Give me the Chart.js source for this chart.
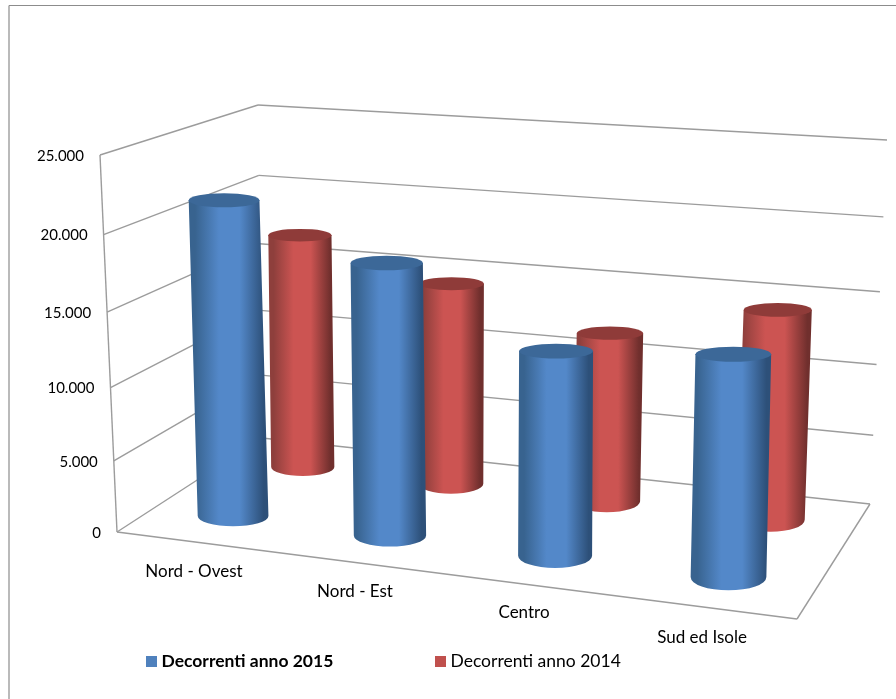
<!DOCTYPE html>
<html>
<head>
<meta charset="utf-8">
<title>Decorrenti</title>
<script src="https://cdn.jsdelivr.net/npm/chart.js@4"></script>
<style>
  html, body { margin: 0; padding: 0; background: #fff; }
  canvas { display: block; }
</style>
</head>
<body>
<canvas id="grafico" width="896" height="699"></canvas>
<script>
const categorie = ["Nord - Ovest", "Nord - Est", "Centro", "Sud ed Isole"];
const decorrenti2015 = [21600, 18400, 13700, 14550];
const decorrenti2014 = [17100, 14550, 12050, 14600];
const tickMax = 25000;
const tickStep = 5000;

// corners of the 3D box on screen: floor and ceiling
const floorBox = { fl: [117, 532], fr: [797, 619], br: [870, 504], bl: [262, 438] };
const topBox = { fl: [100, 155], fr: [807, 207], br: [887, 140], bl: [258, 105] };
const seriesDepth = [0.27, 0.78];
const seriesColors = [
  { left: "#38638f", mid: "#5388c9", right: "#2d5079", cap: "#3c6898" },
  { left: "#8e3f3c", mid: "#cc5452", right: "#702f2d", cap: "#8f3b39" }
];
const labelShift = [[-8, 29], [-17, 27], [-18, 26], [-10, 29]];
const fontName = "Lato, 'Open Sans', sans-serif";

const lerp = (a, b, t) => a + (b - a) * t;

const corner = (box, u, v) => {
  const x = lerp(lerp(box.fl[0], box.fr[0], u), lerp(box.bl[0], box.br[0], u), v);
  const y = lerp(lerp(box.fl[1], box.fr[1], u), lerp(box.bl[1], box.br[1], u), v);
  return [x, y];
};

// u = along the categories, v = depth, t = share of the value axis
const project = (u, v, t) => {
  const a = corner(floorBox, u, v);
  const b = corner(topBox, u, v);
  // the upper steps of the axis look a bit larger than the lower ones
  const h = t - 0.07 * t * (1 - t);
  return [lerp(a[0], b[0], h), lerp(a[1], b[1], h)];
};

const line = (ctx, a, b) => {
  ctx.beginPath();
  ctx.moveTo(a[0], a[1]);
  ctx.lineTo(b[0], b[1]);
  ctx.stroke();
};

const drawWalls = (chart) => {
  const { ctx, scales } = chart;
  const yScale = scales.y;
  const shareOf = (value) => (yScale.bottom - yScale.getPixelForValue(value)) / (yScale.bottom - yScale.top);

  // frame of the picture
  ctx.strokeStyle = "#8c8c8c";
  ctx.lineWidth = 1.2;
  line(ctx, [9, 699], [9, 5.5]);
  line(ctx, [9, 5.5], [896, 5.5]);

  ctx.strokeStyle = "#9c9c9c";
  ctx.lineWidth = 1.4;
  yScale.ticks.forEach((tick) => {
    const t = shareOf(tick.value);
    line(ctx, project(0, 0, t), project(0, 1, t));
    line(ctx, project(0, 1, t), project(1, 1, t));
  });
  line(ctx, project(0, 0, 0), project(0, 0, 1));
  line(ctx, project(0, 0, 0), project(1, 0, 0));
  line(ctx, project(1, 0, 0), project(1, 1, 0));

  // value labels follow the lean of the front edge
  ctx.fillStyle = "#000";
  ctx.font = "15px " + fontName;
  ctx.textAlign = "right";
  ctx.textBaseline = "middle";
  yScale.ticks.forEach((tick) => {
    const p = project(0, 0, shareOf(tick.value));
    ctx.fillText(tick.label, p[0] - 16, p[1] + 1);
  });
};

const drawCylinder = (chart, el, depth, colors) => {
  const { ctx, chartArea } = chart;
  const yScale = chart.scales.y;
  const u0 = (el.x - chartArea.left) / (chartArea.right - chartArea.left);
  const u = u0 + 0.1 * (u0 - 0.5) * (u0 - 0.5) - 0.0226;
  const t = (el.base - el.y) / (yScale.bottom - yScale.top);
  const bottom = project(u, depth, 0);
  const top = project(u, depth, t);
  const rx = (el.width / 2) * (1 + 0.09 * u - 0.2 * depth);
  const ryBottom = rx * (0.28 + 0.08 * u);
  const ryTop = rx * 0.2;

  const grad = ctx.createLinearGradient(Math.min(top[0], bottom[0]) - rx, 0, Math.max(top[0], bottom[0]) + rx, 0);
  grad.addColorStop(0, colors.left);
  grad.addColorStop(0.08, colors.left);
  grad.addColorStop(0.38, colors.mid);
  grad.addColorStop(0.64, colors.mid);
  grad.addColorStop(0.94, colors.right);
  grad.addColorStop(1, colors.right);

  ctx.fillStyle = grad;
  ctx.beginPath();
  ctx.moveTo(top[0] - rx, top[1]);
  ctx.lineTo(bottom[0] - rx, bottom[1]);
  ctx.ellipse(bottom[0], bottom[1], rx, ryBottom, 0, Math.PI, 0, true);
  ctx.lineTo(top[0] + rx, top[1]);
  ctx.closePath();
  ctx.fill();

  ctx.fillStyle = colors.cap;
  ctx.beginPath();
  ctx.ellipse(top[0], top[1], rx, ryTop, 0, 0, Math.PI * 2);
  ctx.fill();
};

const drawCategoryLabels = (chart) => {
  const { ctx, chartArea, scales } = chart;
  ctx.fillStyle = "#000";
  ctx.font = "17px " + fontName;
  ctx.textAlign = "center";
  ctx.textBaseline = "middle";
  categorie.forEach((name, i) => {
    const u = (scales.x.getPixelForValue(i) - chartArea.left) / (chartArea.right - chartArea.left);
    const p = project(u, 0, 0);
    ctx.fillText(name, p[0] + labelShift[i][0], p[1] + labelShift[i][1]);
  });
};

const drawLegend = (chart) => {
  const { ctx } = chart;
  const boxX = [146, 435];
  ctx.textAlign = "left";
  ctx.textBaseline = "middle";
  chart.data.datasets.forEach((ds, i) => {
    ctx.fillStyle = ds.backgroundColor;
    ctx.fillRect(boxX[i], 656, 11, 11);
    ctx.fillStyle = "#000";
    ctx.font = (i === 0 ? "bold " : "") + "17.5px " + fontName;
    ctx.fillText(ds.label, boxX[i] + 15.5, 661.5);
  });
};

const cylinders3d = {
  id: "cylinders3d",
  beforeDatasetsDraw(chart) {
    drawWalls(chart);
    // red row stands behind the blue one
    [1, 0].forEach((index) => {
      chart.getDatasetMeta(index).data.forEach((el) => {
        drawCylinder(chart, el, seriesDepth[index], seriesColors[index]);
      });
    });
    drawCategoryLabels(chart);
    drawLegend(chart);
    return false;
  }
};

new Chart(document.getElementById("grafico"), {
  type: "bar",
  data: {
    labels: categorie,
    datasets: [
      { label: "Decorrenti anno 2015", data: decorrenti2015, backgroundColor: "#4f81bd" },
      { label: "Decorrenti anno 2014", data: decorrenti2014, backgroundColor: "#c0504d" }
    ]
  },
  options: {
    responsive: false,
    animation: false,
    barPercentage: 0.435,
    categoryPercentage: 1,
    layout: { padding: { left: 117, right: 99, top: 155, bottom: 167 } },
    plugins: { legend: { display: false }, tooltip: { enabled: false } },
    scales: {
      x: { stacked: true, display: false },
      y: {
        display: false,
        min: 0,
        max: tickMax,
        ticks: {
          stepSize: tickStep,
          callback: (value) => value.toLocaleString("it-IT", { useGrouping: "always" })
        }
      }
    }
  },
  plugins: [cylinders3d]
});
</script>
</body>
</html>
